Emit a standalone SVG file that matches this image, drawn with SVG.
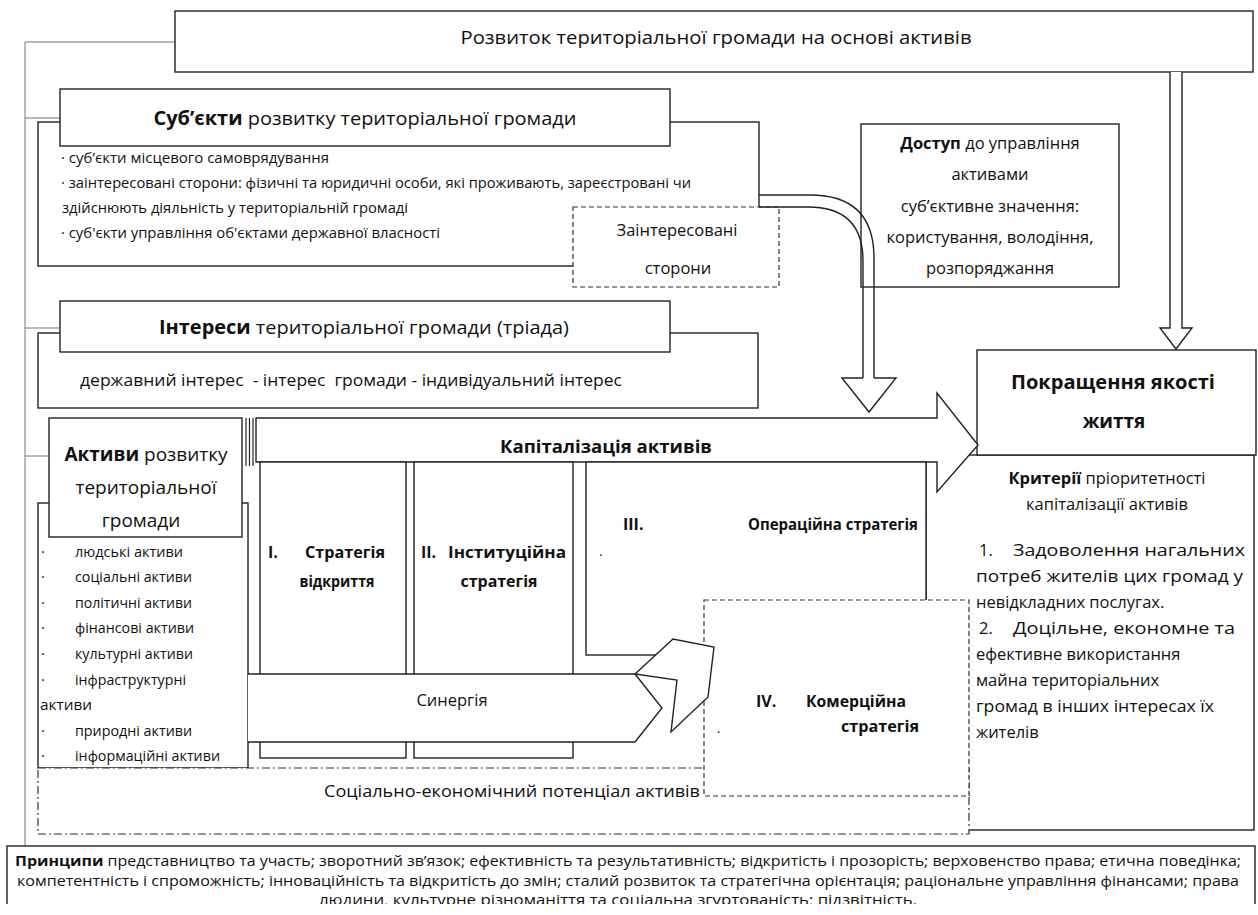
<svg xmlns="http://www.w3.org/2000/svg" width="1258" height="915" viewBox="0 0 1258 915">
<defs>
<style>
.box{fill:#fff;stroke:#222;stroke-width:1.4}
.dash{fill:#fff;stroke:#333;stroke-width:1.2;stroke-dasharray:5 3}
.dashdot{fill:#fff;stroke:#333;stroke-width:1.2;stroke-dasharray:8 3 2 3}
.conn{fill:none;stroke:#777;stroke-width:1}
.ln{fill:none;stroke:#222;stroke-width:1.4}
.arr{fill:#fff;stroke:#222;stroke-width:1.4;stroke-linejoin:miter}
.t{font-family:"Open Sans","Noto Sans","DejaVu Sans",sans-serif;fill:#111}
.c{text-anchor:middle}
.b{font-weight:bold}
.s13{font-size:14.5px}
.s14{font-size:14.5px}
.s15{font-size:15px}
.s16{font-size:16.5px}
.s18{font-size:18px}
.s19{font-size:19px}
</style>
<clipPath id="clipBottom"><rect x="0" y="0" width="1258" height="904"/></clipPath>
</defs>

<g id="connectors">
  <path class="conn" d="M25,42 H175 M25,42 V847 M25,118 H60 M25,328 H60 M25,456 H62"/>
</g>

<g id="top">
  <rect class="box" x="175" y="11" width="1078" height="61"/>
  <text class="t c" x="716" y="44" font-size="19" textLength="511" lengthAdjust="spacingAndGlyphs">Розвиток територіальної громади на основі активів</text>
</g>

<g id="right-arrow">
  <path class="arr" d="M1170,72 V328 H1160 L1176,349 L1192,328 H1182 V72"/>
</g>

<g id="subjects">
  <rect class="box" x="38" y="122" width="721" height="144"/>
  <rect class="box" x="60" y="89" width="610" height="57"/>
  <text class="t c s19" x="365" y="125" textLength="423" lengthAdjust="spacingAndGlyphs"><tspan class="b">Суб’єкти</tspan> розвитку територіальної громади</text>
  <text class="t s13" x="61" y="163" textLength="268" lengthAdjust="spacingAndGlyphs">·  суб’єкти місцевого самоврядування</text>
  <text class="t s13" x="61" y="188" textLength="630" lengthAdjust="spacingAndGlyphs">·  заінтересовані сторони: фізичні та юридичні особи, які проживають, зареєстровані чи</text>
  <text class="t s13" x="62" y="213" textLength="346" lengthAdjust="spacingAndGlyphs">здійснюють діяльність у територіальній громаді</text>
  <text class="t s13" x="61" y="238" textLength="379" lengthAdjust="spacingAndGlyphs">·  суб'єкти управління об'єктами державної власності</text>
</g>

<g id="stakeholders">
  <rect class="dash" x="573" y="207" width="206" height="80"/>
  <text class="t c s16" x="677" y="236">Заінтересовані</text>
  <text class="t c s16" x="678" y="274">сторони</text>
</g>

<g id="access">
  <rect class="box" x="861" y="124" width="258" height="163"/>
  <text class="t c s16" x="990" y="149"><tspan class="b">Доступ</tspan> до управління</text>
  <text class="t c s16" x="990" y="180">активами</text>
  <text class="t c s16" x="990" y="212">суб’єктивне значення:</text>
  <text class="t c s16" x="990" y="243">користування, володіння,</text>
  <text class="t c s16" x="990" y="274">розпоряджання</text>
</g>

<g id="curved-arrow">
  <path class="ln" d="M759,195 H810 Q874,195 874,258 V378"/>
  <path class="ln" d="M759,207 H808 Q863,207 863,261 V378"/>
  <path class="arr" d="M863,378 H842 L869,412 L896,378 H874"/>
</g>

<g id="interests">
  <rect class="box" x="38" y="333" width="720" height="75"/>
  <rect class="box" x="60" y="301" width="610" height="51"/>
  <text class="t c s19" x="364" y="334" textLength="410" lengthAdjust="spacingAndGlyphs"><tspan class="b">Інтереси</tspan> територіальної громади (тріада)</text>
  <text class="t c s16" x="351" y="386" textLength="542" lengthAdjust="spacingAndGlyphs" xml:space="preserve">державний інтерес  - інтерес  громади - індивідуальний інтерес</text>
</g>

<g id="criteria">
  <rect class="box" x="926" y="455" width="328" height="375"/>
  <text class="t c s16" x="1107" y="484"><tspan class="b">Критерії</tspan> пріоритетності</text>
  <text class="t c s16" x="1107" y="510">капіталізації активів</text>
  <text class="t s16" x="979" y="556">1.</text>
  <text class="t s16" x="1013" y="556" textLength="232" lengthAdjust="spacingAndGlyphs">Задоволення нагальних</text>
  <text class="t s16" x="976" y="582" textLength="267" lengthAdjust="spacingAndGlyphs">потреб жителів цих громад у</text>
  <text class="t s16" x="976" y="608">невідкладних послугах.</text>
  <text class="t s16" x="979" y="634">2.</text>
  <text class="t s16" x="1013" y="634" textLength="222" lengthAdjust="spacingAndGlyphs">Доцільне, економне та</text>
  <text class="t s16" x="976" y="660">ефективне використання</text>
  <text class="t s16" x="976" y="686">майна територіальних</text>
  <text class="t s16" x="976" y="712" textLength="238" lengthAdjust="spacingAndGlyphs">громад в інших інтересах їх</text>
  <text class="t s16" x="976" y="738">жителів</text>
</g>

<g id="quality">
  <rect class="box" x="977" y="350" width="279" height="105"/>
  <text class="t c s19 b" x="1113" y="389" textLength="204" lengthAdjust="spacingAndGlyphs">Покращення якості</text>
  <text class="t c s19 b" x="1114" y="428">життя</text>
</g>

<g id="capitalization">
  <path class="arr" d="M256,418 H937 V393 L978,445 L937,492 V462 H256 Z"/>
  <text class="t c s18 b" x="606" y="453" textLength="212" lengthAdjust="spacingAndGlyphs">Капіталізація активів</text>
</g>

<g id="assets">
  <rect class="box" x="38" y="503" width="210" height="265"/>
  <rect class="box" x="49" y="418" width="193" height="119"/>
  <path class="ln" d="M246,418 V466 M249.5,418 V466 M253,418 V466" style="stroke-width:1.2"/>
  <text class="t c s19" x="146" y="461"><tspan class="b">Активи</tspan> розвитку</text>
  <text class="t c s19" x="146" y="494">територіальної</text>
  <text class="t c s19" x="141" y="527">громади</text>
  <g class="t s14">
    <text x="41" y="557">·</text><text x="75" y="557" textLength="108" lengthAdjust="spacingAndGlyphs">людські активи</text>
    <text x="41" y="582">·</text><text x="75" y="582" textLength="117" lengthAdjust="spacingAndGlyphs">соціальні активи</text>
    <text x="41" y="608">·</text><text x="75" y="608" textLength="117" lengthAdjust="spacingAndGlyphs">політичні активи</text>
    <text x="41" y="633">·</text><text x="75" y="633" textLength="119" lengthAdjust="spacingAndGlyphs">фінансові активи</text>
    <text x="41" y="659">·</text><text x="75" y="659" textLength="118" lengthAdjust="spacingAndGlyphs">культурні активи</text>
    <text x="41" y="685">·</text><text x="75" y="685" textLength="111" lengthAdjust="spacingAndGlyphs">інфраструктурні</text>
    <text x="40" y="710" textLength="52" lengthAdjust="spacingAndGlyphs">активи</text>
    <text x="41" y="736">·</text><text x="75" y="736" textLength="117" lengthAdjust="spacingAndGlyphs">природні активи</text>
    <text x="41" y="761">·</text><text x="75" y="761" textLength="145" lengthAdjust="spacingAndGlyphs">інформаційні активи</text>
  </g>
</g>

<g id="strategy-1">
  <rect class="box" x="260" y="462" width="146" height="296"/>
  <text class="t b" x="268" y="558" font-size="16">I.</text>
  <text class="t b" x="305" y="558" font-size="16" textLength="80" lengthAdjust="spacingAndGlyphs">Стратегія</text>
  <text class="t c b" x="337" y="587" font-size="16" textLength="75" lengthAdjust="spacingAndGlyphs">відкриття</text>
</g>

<g id="strategy-2">
  <rect class="box" x="414" y="462" width="159" height="296"/>
  <text class="t b" x="421" y="558" font-size="16">II.</text>
  <text class="t b" x="448" y="558" font-size="16" textLength="118" lengthAdjust="spacingAndGlyphs">Інституційна</text>
  <text class="t c b" x="499" y="587" font-size="16" textLength="77" lengthAdjust="spacingAndGlyphs">стратегія</text>
</g>

<g id="strategy-3">
  <rect class="box" x="586" y="462" width="340" height="193"/>
  <text class="t b" x="623" y="530" font-size="16">III.</text>
  <text class="t b" x="748" y="530" font-size="16" textLength="170" lengthAdjust="spacingAndGlyphs">Операційна стратегія</text>
  <text class="t" x="599" y="556" font-size="13">.</text>
</g>

<g id="synergy">
  <path class="arr" d="M248,674 H635 L662,708 L635,742 H248"/>
  <text class="t c s16" x="452" y="706">Синергія</text>
</g>

<g id="potential">
  <rect class="dashdot" x="38" y="768" width="931" height="66"/>
  <text class="t c s16" x="512" y="797" textLength="376" lengthAdjust="spacingAndGlyphs">Соціально-економічний потенціал активів</text>
</g>

<g id="strategy-4">
  <rect class="dash" x="704" y="600" width="265" height="196"/>
  <text class="t b" x="756" y="707" font-size="16">IV.</text>
  <text class="t b" x="806" y="707" font-size="16" textLength="100" lengthAdjust="spacingAndGlyphs">Комерційна</text>
  <text class="t b" x="841" y="732" font-size="16" textLength="78" lengthAdjust="spacingAndGlyphs">стратегія</text>
  <text class="t" x="717" y="733" font-size="13">.</text>
</g>

<g id="chevron">
  <path class="arr" d="M635,674 L673,639 L714,647 L708,697 L671,732 L677,680 Z"/>
</g>

<g id="principles" clip-path="url(#clipBottom)">
  <rect class="box" x="7" y="846" width="1248" height="80"/>
  <text class="t c" x="628" y="866" font-size="14" textLength="1226" lengthAdjust="spacingAndGlyphs"><tspan class="b">Принципи</tspan> представництво та участь; зворотний зв’язок; ефективність та результативність; відкритість і прозорість; верховенство права; етична поведінка;</text>
  <text class="t c" x="628" y="885.5" font-size="14" textLength="1222" lengthAdjust="spacingAndGlyphs">компетентність і спроможність; інноваційність та відкритість до змін; сталий розвиток та стратегічна орієнтація; раціональне управління фінансами; права</text>
  <text class="t c" x="618" y="905" font-size="14" textLength="598" lengthAdjust="spacingAndGlyphs">людини, культурне різноманіття та соціальна згуртованість; підзвітність.</text>
</g>
</svg>
